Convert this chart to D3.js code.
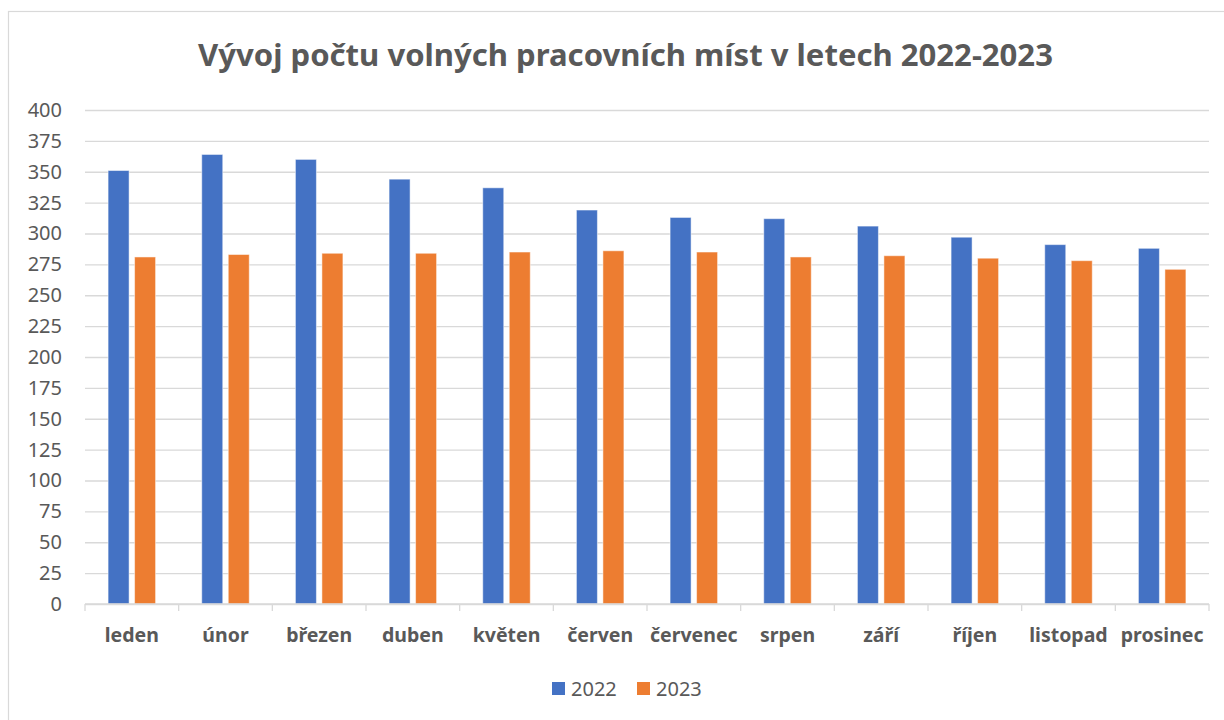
<!DOCTYPE html>
<html>
<head>
<meta charset="utf-8">
<script src="https://cdn.jsdelivr.net/npm/d3@7"></script>
<style>
  html, body { margin: 0; padding: 0; background: #fff; }
  svg { display: block; font-family: "Noto Sans", "Open Sans", sans-serif; }
</style>
</head>
<body>
<div id="chart"></div>
<script>
// data
const months = ['leden', 'únor', 'březen', 'duben', 'květen', 'červen',
                'červenec', 'srpen', 'září', 'říjen', 'listopad', 'prosinec'];
const years = ['2022', '2023'];
const values2022 = [351, 364, 360, 344, 337, 319, 313, 312, 306, 297, 291, 288];
const values2023 = [281, 283, 284, 284, 285, 286, 285, 281, 282, 280, 278, 271];
const yTicks = [0, 25, 50, 75, 100, 125, 150, 175, 200, 225, 250, 275, 300, 325, 350, 375, 400];
const title = 'Vývoj počtu volných pracovních míst v letech 2022-2023';

const width = 1224, height = 720;
const margin = { top: 110, right: 15, bottom: 116, left: 85 };
const colors = { '2022': '#4472C4', '2023': '#ED7D31' };
const textColor = '#595959';
const gridColor = '#D9D9D9';

const rows = months.map((m, i) => ({ month: m, '2022': values2022[i], '2023': values2023[i] }));

const svg = d3.select('#chart').append('svg')
    .attr('width', width)
    .attr('height', height);

// outer chart frame (clipped at the right and bottom like the source)
svg.append('rect')
    .attr('x', 8.5).attr('y', 11.5)
    .attr('width', 1240).attr('height', 740)
    .attr('fill', 'none')
    .attr('stroke', gridColor)
    .attr('stroke-width', 1.2);

const x0 = d3.scaleBand()
    .domain(months)
    .range([margin.left, width - margin.right]);

const x1 = d3.scaleBand()
    .domain(years)
    .range([x0.bandwidth() / 2 - 23.75, x0.bandwidth() / 2 + 23.75])
    .paddingInner(0.2075);

const y = d3.scaleLinear()
    .domain([0, 400])
    .range([height - margin.bottom, margin.top]);

// gridlines + y labels
const yAxis = d3.axisLeft(y)
    .tickValues(yTicks)
    .tickSize(-(width - margin.left - margin.right))
    .tickPadding(23);

svg.append('g')
    .attr('class', 'y-axis')
    .attr('transform', `translate(${margin.left},0)`)
    .call(yAxis)
    .call(g => g.select('.domain').remove())
    .call(g => g.selectAll('.tick line').attr('stroke', gridColor).attr('stroke-width', 1.3))
    .call(g => g.selectAll('.tick text')
        .attr('fill', textColor)
        .style('font-size', '20px')
        .style('font-family', '"Noto Sans", sans-serif'));

// bars
const groups = svg.append('g')
    .selectAll('g')
    .data(rows)
    .join('g')
    .attr('transform', d => `translate(${x0(d.month)},0)`);

groups.selectAll('rect')
    .data(d => years.map(k => ({ key: k, value: d[k] })))
    .join('rect')
    .attr('x', d => x1(d.key))
    .attr('y', d => y(d.value))
    .attr('width', x1.bandwidth())
    .attr('height', d => y(0) - y(d.value))
    .attr('fill', d => colors[d.key])
    .attr('stroke', '#fff')
    .attr('stroke-opacity', 0.5)
    .attr('stroke-width', 1);

// category axis with boundary ticks
const xAxisG = svg.append('g')
    .attr('class', 'x-axis')
    .attr('transform', `translate(0,${y(0)})`);

xAxisG.append('line')
    .attr('x1', margin.left).attr('x2', width - margin.right)
    .attr('y1', 0).attr('y2', 0)
    .attr('stroke', gridColor).attr('stroke-width', 1.3);

const bounds = months.map(m => x0(m)).concat([x0.range()[1]]);
xAxisG.selectAll('line.tick')
    .data(bounds)
    .join('line')
    .attr('class', 'tick')
    .attr('x1', d => d).attr('x2', d => d)
    .attr('y1', 0).attr('y2', 7)
    .attr('stroke', gridColor).attr('stroke-width', 1.3);

xAxisG.selectAll('text')
    .data(months)
    .join('text')
    .attr('x', d => x0(d) + x0.bandwidth() / 2)
    .attr('y', 38)
    .attr('text-anchor', 'middle')
    .attr('fill', textColor)
    .style('font-size', '19.5px')
    .style('font-weight', 'bold')
    .text(d => d);

// title, sized to the source width
const titleEl = svg.append('text')
    .attr('x', (198 + 1053) / 2)
    .attr('y', 66)
    .attr('text-anchor', 'middle')
    .attr('fill', textColor)
    .style('font-weight', 'bold')
    .style('font-size', '28px')
    .text(title);
const tw = titleEl.node().getComputedTextLength();
titleEl.style('font-size', (28 * 855 / tw).toFixed(2) + 'px');

// legend
const legend = svg.append('g')
    .attr('transform', 'translate(552,682)');

const items = legend.selectAll('g')
    .data(years)
    .join('g')
    .attr('transform', (d, i) => `translate(${i * 85},0)`);

items.append('rect')
    .attr('width', 13).attr('height', 13)
    .attr('fill', d => colors[d]);

items.append('text')
    .attr('x', 19)
    .attr('y', 14)
    .attr('fill', textColor)
    .style('font-size', '20px')
    .text(d => d);
</script>
</body>
</html>
